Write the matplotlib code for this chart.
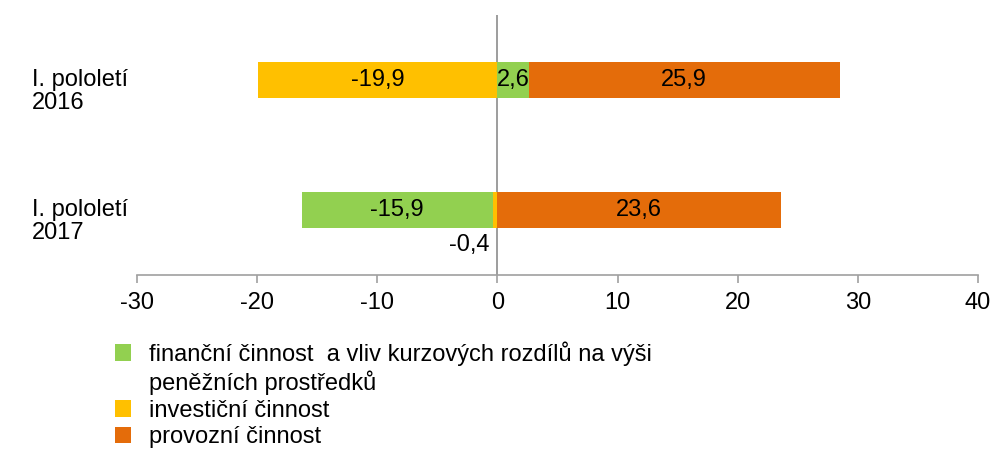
# peněžní toky - pololetí 2016 a 2017

import numpy as np
import matplotlib.pyplot as plt
from matplotlib.patches import Rectangle

plt.rcParams["font.family"] = ["Liberation Sans", "DejaVu Sans"]
plt.rcParams["axes.unicode_minus"] = False

periods = ["I. pololetí\n2017", "I. pololetí\n2016"]
series = ["investiční činnost", "finanční činnost", "provozní činnost"]
values = {
    "investiční činnost": [-0.4, -19.9],
    "finanční činnost": [-15.9, 2.6],
    "provozní činnost": [23.6, 25.9],
}
colors = {
    "investiční činnost": "#FFC000",
    "finanční činnost": "#92D050",
    "provozní činnost": "#E46C0A",
}
legend_labels = ["finanční činnost  a vliv kurzových rozdílů na výši",
                 "peněžních prostředků",
                 "investiční činnost",
                 "provozní činnost"]

fig = plt.figure(figsize=(9.97, 4.5), dpi=100)
ax = fig.add_axes([0.1374, 0.389, 0.8436, 0.578])

y = np.arange(len(periods))
pos = np.zeros(len(periods))
neg = np.zeros(len(periods))
bars = {}
for s in series:
    v = np.array(values[s])
    left = np.where(v >= 0, pos, neg)
    bars[s] = ax.barh(y, v, left=left, height=0.28, color=colors[s], label=s)
    for i in range(len(v)):
        if abs(v[i]) < 1:
            # small value: label below the bar
            ax.text(left[i] + v[i] - 0.3, y[i] - 0.27, f"{v[i]:.1f}".replace(".", ","),
                    ha="right", va="center", fontsize=17)
        else:
            ax.text(left[i] + v[i] / 2, y[i], f"{v[i]:.1f}".replace(".", ","),
                    ha="center", va="center", fontsize=17)
    pos = pos + np.where(v >= 0, v, 0)
    neg = neg + np.where(v < 0, v, 0)

ax.axvline(0, color="#8C8C8C", lw=1.2, zorder=0)

ax.set_xlim(-30, 40)
ax.set_ylim(-0.5, 1.5)
ax.set_xticks(range(-30, 41, 10))
ax.tick_params(axis="x", labelsize=17, color="#A0A0A0", length=6, width=1.2, pad=6)
ax.set_yticks([])
for sp in ["top", "right", "left"]:
    ax.spines[sp].set_visible(False)
ax.spines["bottom"].set_color("#A0A0A0")
ax.spines["bottom"].set_linewidth(1.2)

for i, p in enumerate(periods):
    ax.text(-0.125, y[i] - 0.09, p, transform=ax.get_yaxis_transform(),
            ha="left", va="center", fontsize=17, linespacing=1.1)

blank = Rectangle((0, 0), 1, 1, fill=False, edgecolor="none")
handles = [bars["finanční činnost"], blank, bars["investiční činnost"], bars["provozní činnost"]]
fig.legend(handles, legend_labels, loc="upper left", bbox_to_anchor=(0.115, 0.242),
           frameon=False, fontsize=17, handlelength=0.7, handleheight=0.7,
           handletextpad=0.75, labelspacing=0.2, borderaxespad=0, borderpad=0)

fig.savefig("out.png", dpi=100)
